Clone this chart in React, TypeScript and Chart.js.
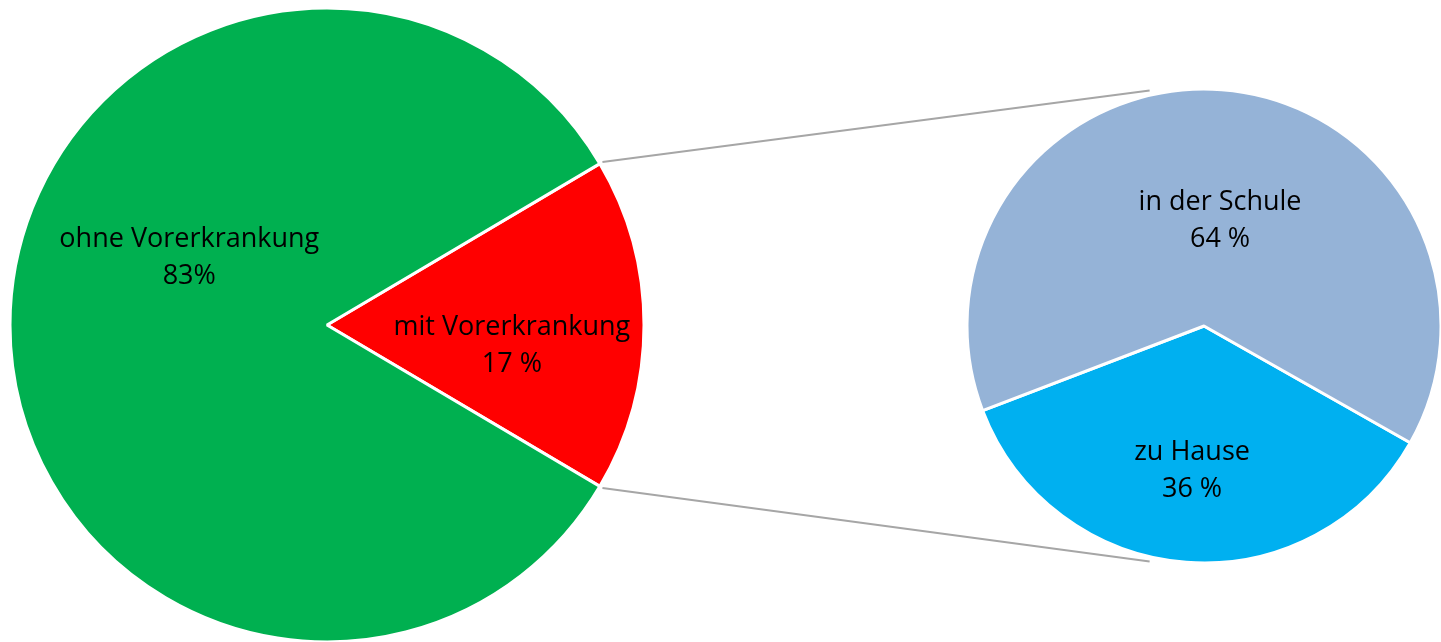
import React, { useEffect, useRef } from "react";
import { Chart, registerables } from "chart.js";

Chart.register(...registerables);

// ---- data ----
const mainLabels = ["mit Vorerkrankung", "ohne Vorerkrankung"];
const mainValues = [17, 83];
const mainValueLabels = ["17 %", "83%"];
const mainColors = ["#FF0000", "#00B050"];

const subLabels = ["zu Hause", "in der Schule"];
const subValues = [36, 64];
const subValueLabels = ["36 %", "64 %"];
const subColors = ["#00B0F0", "#95B3D7"];

const FONT = "27px 'Open Sans', Lato, sans-serif";

type LabelPos = { angle: number; dist: number };

function makeLabelPlugin(valueLabels: string[], positions: LabelPos[]) {
  return {
    id: "sliceLabels",
    afterDatasetsDraw(chart: any) {
      const meta = chart.getDatasetMeta(0);
      const ctx = chart.ctx as CanvasRenderingContext2D;
      ctx.save();
      ctx.font = FONT;
      ctx.fillStyle = "#000000";
      ctx.textAlign = "center";
      ctx.textBaseline = "middle";
      meta.data.forEach((arc: any, i: number) => {
        const { x, y, outerRadius } = arc.getProps(["x", "y", "outerRadius"], true);
        const p = positions[i];
        const a = (p.angle * Math.PI) / 180;
        const cx = x + Math.cos(a) * p.dist * outerRadius;
        const cy = y + Math.sin(a) * p.dist * outerRadius;
        const lines = [chart.data.labels[i], valueLabels[i]];
        const lh = 37;
        lines.forEach((t: string, k: number) => {
          ctx.fillText(t, cx, cy + (k - (lines.length - 1) / 2) * lh);
        });
      });
      ctx.restore();
    },
  };
}

export default function App() {
  const leftRef = useRef<HTMLCanvasElement>(null);
  const rightRef = useRef<HTMLCanvasElement>(null);
  const lineRef = useRef<HTMLCanvasElement>(null);

  const LEFT = { left: 0, top: 0, w: 654, h: 650, r: 317 };
  const RIGHT = { left: 964, top: 86, w: 480, h: 480, r: 237 };

  useEffect(() => {
    const left = new Chart(leftRef.current!, {
      type: "pie",
      data: {
        labels: mainLabels,
        datasets: [
          {
            data: mainValues,
            backgroundColor: mainColors,
            borderColor: "#FFFFFF",
            borderWidth: 3,
          },
        ],
      },
      options: {
        responsive: false,
        animation: false,
        rotation: 59.4,
        radius: LEFT.r,
        plugins: { legend: { display: false }, tooltip: { enabled: false } },
        events: [],
      },
      plugins: [
        makeLabelPlugin(mainValueLabels, [
          { angle: 6.5, dist: 0.587 },
          { angle: 205.9, dist: 0.483 },
        ]),
      ],
    });

    const right = new Chart(rightRef.current!, {
      type: "pie",
      data: {
        labels: subLabels,
        datasets: [
          {
            data: subValues,
            backgroundColor: subColors,
            borderColor: "#FFFFFF",
            borderWidth: 3,
          },
        ],
      },
      options: {
        responsive: false,
        animation: false,
        rotation: 119.5,
        radius: RIGHT.r,
        plugins: { legend: { display: false }, tooltip: { enabled: false } },
        events: [],
      },
      plugins: [
        makeLabelPlugin(subValueLabels, [
          { angle: 94.7, dist: 0.614 },
          { angle: -81.3, dist: 0.448 },
        ]),
      ],
    });

    // connector lines derived from chart geometry
    const lc = lineRef.current!;
    const ctx = lc.getContext("2d")!;
    ctx.clearRect(0, 0, lc.width, lc.height);
    const la: any = left.getDatasetMeta(0).data[0];
    const lp = la.getProps(["x", "y", "outerRadius", "startAngle", "endAngle"], true);
    const ra: any = right.getDatasetMeta(0).data[0];
    const rp = ra.getProps(["x", "y", "outerRadius"], true);
    const lcx = LEFT.left + lp.x;
    const lcy = LEFT.top + lp.y;
    const rcx = RIGHT.left + rp.x;
    const rcy = RIGHT.top + rp.y;
    const lr = lp.outerRadius + 3;
    const rr = rp.outerRadius * 1.02;
    const endA = (103 * Math.PI) / 180;
    const pairs = [
      [lp.startAngle, -endA],
      [lp.endAngle, endA],
    ];
    ctx.strokeStyle = "#A6A6A6";
    ctx.lineWidth = 2;
    pairs.forEach(([a1, a2]) => {
      ctx.beginPath();
      ctx.moveTo(lcx + Math.cos(a1) * lr, lcy + Math.sin(a1) * lr);
      ctx.lineTo(rcx + Math.cos(a2) * rr, rcy + Math.sin(a2) * rr);
      ctx.stroke();
    });

    return () => {
      left.destroy();
      right.destroy();
    };
  }, []);

  return (
    <div
      style={{
        position: "absolute",
        left: 0,
        top: 0,
        width: 1441,
        height: 642,
        overflow: "hidden",
        background: "#FFFFFF",
      }}
    >
      <canvas
        ref={lineRef}
        width={1441}
        height={642}
        style={{ position: "absolute", left: 0, top: 0 }}
      />
      <canvas
        ref={leftRef}
        width={LEFT.w}
        height={LEFT.h}
        style={{ position: "absolute", left: LEFT.left, top: LEFT.top, width: LEFT.w, height: LEFT.h }}
      />
      <canvas
        ref={rightRef}
        width={RIGHT.w}
        height={RIGHT.h}
        style={{ position: "absolute", left: RIGHT.left, top: RIGHT.top, width: RIGHT.w, height: RIGHT.h }}
      />
    </div>
  );
}
